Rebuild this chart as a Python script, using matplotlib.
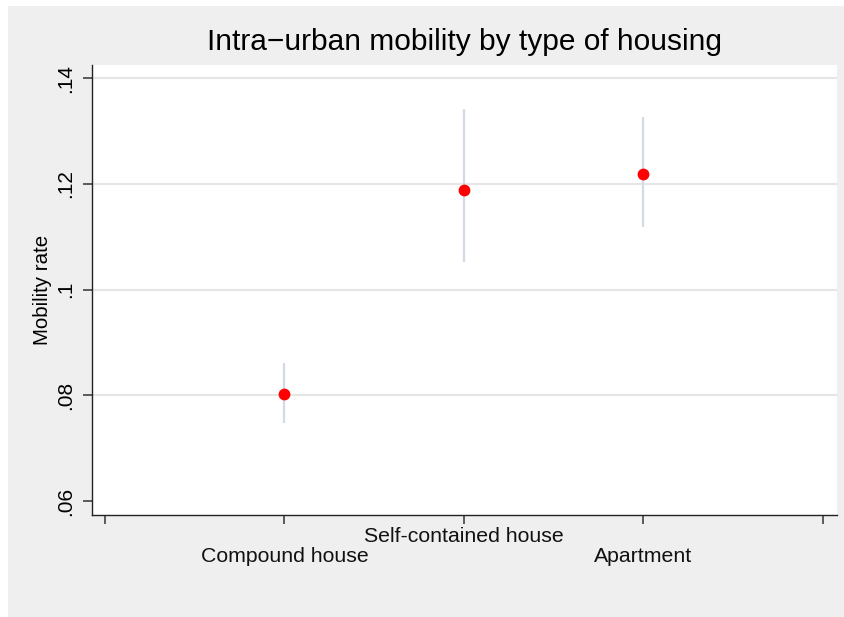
import matplotlib
matplotlib.use("Agg")
import matplotlib.pyplot as plt
from matplotlib.patches import Rectangle
from matplotlib.transforms import blended_transform_factory

plt.rcParams['font.family'] = ['Liberation Sans', 'DejaVu Sans']

# Mobility rate by housing type with confidence intervals
categories = ["Compound house", "Self-contained house", "Apartment"]
positions = [1, 2, 3]
rate = [0.0803, 0.1189, 0.1218]
ci_low = [0.0748, 0.1052, 0.1118]
ci_high = [0.0862, 0.1342, 0.1327]

y_ticks = [0.06, 0.08, 0.10, 0.12, 0.14]
y_tick_labels = [".06", ".08", ".1", ".12", ".14"]
grid_levels = [0.08, 0.10, 0.12, 0.14]
x_ticks = [0, 1, 2, 3, 4]

W, H = 845, 617
fig = plt.figure(figsize=(W / 100, H / 100), dpi=100)
fig.patch.set_facecolor("white")
fig.patches.append(Rectangle((8 / W, 0), 1 - 8 / W, 1 - 6 / H,
                             transform=fig.transFigure, facecolor="#efefef",
                             edgecolor="none", zorder=-10))

left, right, top, bottom = 92, 837, 65, 515
ax = fig.add_axes([left / W, 1 - bottom / H, (right - left) / W, (bottom - top) / H])
ax.set_facecolor("white")

ax.set_xlim(-0.072, 4.078)
ax.set_ylim(0.0574, 0.1425)

# horizontal grid lines
for g in grid_levels:
    ax.axhline(g, color="#e6e6e6", lw=1.5, zorder=1)

# confidence intervals and point estimates
ax.vlines(positions, ci_low, ci_high, colors="#d2d9e7", lw=1.6, zorder=2)
ax.plot(positions, rate, "o", color="#ff0000", markersize=8.5, mec="none", zorder=3)

for s in ["top", "right"]:
    ax.spines[s].set_visible(False)
for s in ["left", "bottom"]:
    ax.spines[s].set_color("#222222")
    ax.spines[s].set_linewidth(1.0)

ax.set_yticks(y_ticks)
ax.set_yticklabels(y_tick_labels, rotation=90, va="center", fontsize=15)
ax.set_xticks(x_ticks)
ax.set_xticklabels([])
ax.tick_params(axis="both", length=6.5, width=1.1, color="#333333", pad=6)

# staggered category labels
offsets = [42, 21, 42]
trans = blended_transform_factory(ax.transData, ax.transAxes)
for x, cat, off in zip(positions, categories, offsets):
    ax.annotate(cat, xy=(x, 0), xycoords=trans, xytext=(0, -off),
                textcoords="offset pixels", ha="center", va="center",
                fontsize=15.3, color="#111111")

ax.set_ylabel("Mobility rate", fontsize=14.8, va="center")
ax.yaxis.set_label_coords(-49 / (right - left), 0.5)

fig.text((left + right) / 2 / W, 1 - 42 / H, "Intra\u2212urban mobility by type of housing",
         ha="center", va="center", fontsize=21.5)

fig.savefig("out.png", dpi=100)
